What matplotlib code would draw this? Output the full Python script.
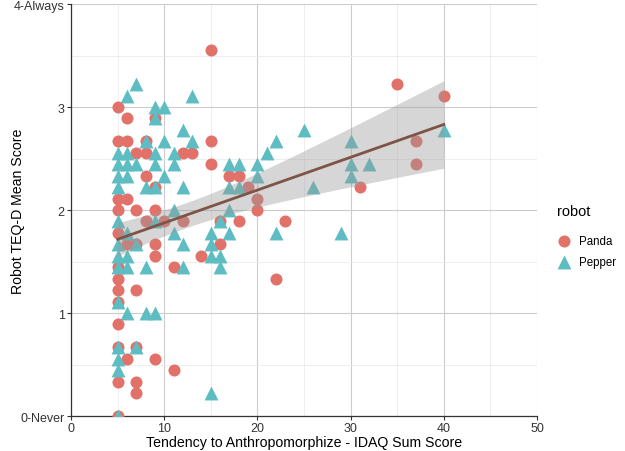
import numpy as np
import matplotlib
matplotlib.use('Agg')
import matplotlib.pyplot as plt

plt.rcParams['font.family'] = ['Liberation Sans', 'DejaVu Sans']

# TEQ-D mean scores are in ninths; values listed as (IDAQ sum, score * 9)
panda_x = [15, 5, 6, 9, 5, 6, 8, 15, 7, 8, 12, 13, 15, 8, 17, 18, 9, 19,
           5, 6, 20, 5, 7, 9, 20, 8, 10, 12, 16, 18, 23, 5, 6, 7, 9, 16,
           9, 14, 11, 5, 5, 5, 7, 5, 5, 5, 7, 6, 9, 11, 5, 7, 7, 5,
           35, 40, 37, 37, 31, 22]
panda_n = [32, 27, 26, 26, 24, 24, 24, 24, 23, 23, 23, 23, 22, 21, 21, 21, 20, 20,
           19, 19, 19, 18, 18, 18, 18, 17, 17, 17, 17, 17, 17, 16, 15, 15, 15, 15,
           14, 14, 13, 13, 12, 11, 11, 10, 8, 6, 6, 5, 5, 4, 3, 3, 2, 0,
           29, 28, 24, 22, 20, 12]

pepper_x = [7, 6, 13, 9, 10, 9, 12, 8, 10, 13, 22, 30,
            5, 6, 9, 11, 21, 5, 6, 7, 9, 11, 17, 18, 20, 30, 32,
            5, 6, 10, 20, 30, 5, 8, 9, 12, 17, 18, 26,
            11, 17, 5, 9, 16, 6, 11, 15, 17, 22, 29,
            5, 7, 12, 15, 5, 6, 15, 16, 5, 6, 8, 12, 16,
            5, 6, 8, 9, 5, 7, 5, 5, 15, 5, 25, 40]
pepper_n = [29, 28, 28, 27, 27, 26, 25, 24, 24, 24, 24, 24,
            23, 23, 23, 23, 23, 22, 22, 22, 22, 22, 22, 22, 22, 22, 22,
            21, 21, 21, 21, 21, 20, 20, 20, 20, 20, 20, 20,
            18, 18, 17, 17, 17, 16, 16, 16, 16, 16, 16,
            15, 15, 15, 15, 14, 14, 14, 14, 13, 13, 13, 13, 13,
            10, 9, 9, 9, 6, 6, 5, 4, 2, 0, 25, 25]

panda_y = np.array(panda_n) / 9
pepper_y = np.array(pepper_n) / 9

y_ticks = [0, 1, 2, 3, 4]
y_labels = ['0-Never', '1', '2', '3', '4-Always']
x_ticks = [0, 10, 20, 30, 40, 50]

# linear fit over all participants with 95% CI band
all_x = np.array(panda_x + pepper_x, dtype=float)
all_y = np.concatenate([panda_y, pepper_y])
n = len(all_x)
slope, intercept = np.polyfit(all_x, all_y, 1)
resid = all_y - (slope * all_x + intercept)
s = np.sqrt(np.sum(resid ** 2) / (n - 2))
xs = np.linspace(all_x.min(), all_x.max(), 100)
fit = slope * xs + intercept
se = s * np.sqrt(1 / n + (xs - all_x.mean()) ** 2 / np.sum((all_x - all_x.mean()) ** 2))
t_crit = 1.973

fig = plt.figure(figsize=(6.25, 4.52), dpi=100)
ax = fig.add_axes([0.1136, 0.0774, 0.7456, 0.9115])

ax.scatter(panda_x, panda_y, s=75, marker='o', color='#E2716A', linewidths=0,
           label='Panda', zorder=3)
ax.scatter(pepper_x, pepper_y, s=100, marker='^', color='#5DBDC2', linewidths=0,
           label='Pepper', zorder=3)
ax.fill_between(xs, fit - t_crit * se, fit + t_crit * se, color='#999999',
                alpha=0.4, linewidth=0, zorder=4)
ax.plot(xs, fit, color='#7E5447', linewidth=2, zorder=5)

ax.set_xlim(0, 50)
ax.set_ylim(0, 4)
ax.set_xticks(x_ticks)
ax.set_xticks([5, 15, 25, 35, 45], minor=True)
ax.set_yticks(y_ticks)
ax.set_yticklabels(y_labels)
ax.set_yticks([0.5, 1.5, 2.5, 3.5], minor=True)
ax.grid(True, which='major', color='#CCCCCC', linewidth=0.8, zorder=0)
ax.grid(True, which='minor', color='#EBEBEB', linewidth=0.6, zorder=0)
ax.set_axisbelow(True)
for side in ['top', 'right']:
    ax.spines[side].set_visible(False)
for side in ['left', 'bottom']:
    ax.spines[side].set_color('#333333')
    ax.spines[side].set_linewidth(0.9)
ax.tick_params(which='major', length=3, color='#333333', labelsize=9,
               labelcolor='#333333', pad=1.5)
ax.tick_params(which='minor', length=0)

ax.set_xlabel('Tendency to Anthropomorphize - IDAQ Sum Score', fontsize=10.2, va='center')
ax.set_ylabel('Robot TEQ-D Mean Score', fontsize=10.2, va='center')
ax.xaxis.set_label_coords(0.5, -0.064)
ax.yaxis.set_label_coords(-0.1137, 0.5)

fig.text(557 / 625, 1 - 212 / 452, 'robot', fontsize=10.5, va='center', ha='left')
leg = fig.legend(loc='upper left', bbox_to_anchor=(0.88, 1 - 230 / 452),
                 frameon=False, fontsize=8.3, labelspacing=0.8,
                 handletextpad=0.5, borderpad=0, handlelength=1.5)

fig.savefig('out.png', dpi=100)
